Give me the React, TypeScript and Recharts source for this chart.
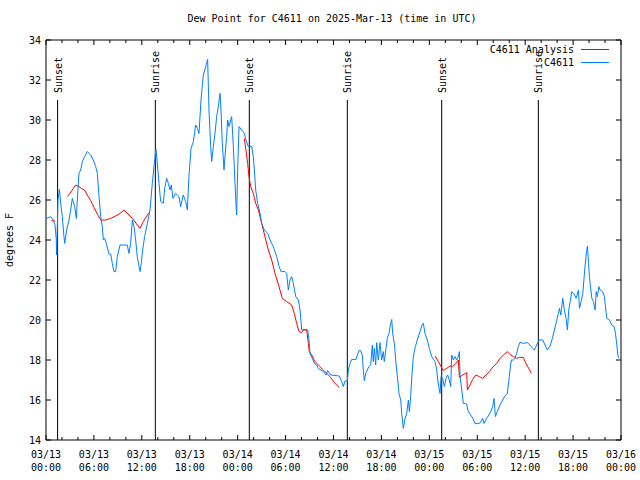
import { LineChart, Line, XAxis, YAxis, ReferenceLine, ReferenceArea, Legend } from 'recharts';

// time axis: hours since 2025-03-13 00:00 UTC
const obsHours = [
  0.0, 0.08, 0.58, 0.92, 1.13, 1.29, 1.33, 1.5, 1.67, 1.84, 2.04, 2.25, 2.34, 2.59, 2.88, 3.09, 3.3,
  3.59, 3.8, 3.92, 4.13, 4.34, 4.55, 4.84, 5.17, 5.6, 5.93, 6.22, 6.43, 6.64, 6.85, 7.05, 7.18, 7.35,
  7.55, 7.89, 8.1, 8.3, 8.51, 8.72, 8.93, 9.27, 10.18, 10.39, 10.6, 10.81, 11.02, 11.23, 11.43, 11.65,
  11.77, 11.93, 12.1, 12.35, 12.69, 13.02, 13.31, 13.52, 13.77, 13.94, 14.15, 14.36, 14.69, 14.86,
  15.11, 15.32, 15.53, 15.69, 15.9, 16.24, 16.65, 16.86, 17.19, 17.49, 17.7, 17.9, 18.16, 18.45,
  18.74, 18.95, 19.16, 19.41, 19.7, 20.0, 20.24, 20.41, 20.62, 20.75, 20.95, 21.16, 21.37, 21.58,
  21.79, 21.91, 22.08, 22.29, 22.41, 22.62, 22.75, 22.92, 23.13, 23.25, 23.46, 23.67, 23.79, 23.87,
  24.0, 24.17, 24.5, 24.83, 25.04, 25.33, 25.76, 25.96, 26.09, 26.26, 26.51, 26.8, 27.01, 27.34,
  27.76, 28.05, 28.46, 28.89, 29.18, 29.43, 29.93, 30.14, 30.34, 30.55, 30.77, 30.97, 31.27, 31.6,
  31.81, 32.02, 32.43, 32.77, 32.93, 33.06, 33.35, 33.6, 33.9, 34.1, 34.73, 35.06, 35.27, 35.65,
  36.73, 37.02, 37.23, 37.44, 37.73, 37.86, 38.07, 38.28, 38.82, 38.98, 39.19, 39.4, 39.6, 39.73,
  39.86, 40.03, 40.23, 40.48, 40.66, 40.86, 40.98, 41.11, 41.28, 41.41, 41.61, 41.82, 42.03, 42.24,
  42.36, 42.57, 42.74, 42.95, 43.16, 43.29, 43.41, 43.62, 43.83, 44.04, 44.2, 44.42, 44.54, 44.74,
  44.96, 45.17, 45.37, 45.5, 45.66, 45.83, 46.0, 46.25, 46.5, 46.83, 47.08, 47.25, 47.46, 47.75,
  48.0, 48.3, 48.71, 48.93, 49.05, 49.18, 49.34, 49.47, 49.67, 49.88, 50.09, 50.3, 50.5, 50.68,
  50.8, 51.01, 51.22, 51.43, 51.63, 51.76, 51.85, 52.06, 52.26, 52.68, 52.81, 53.09, 53.43, 53.71,
  54.13, 54.42, 54.68, 54.84, 55.09, 55.38, 55.68, 55.93, 56.1, 56.27, 56.51, 56.85, 57.18, 57.47,
  57.77, 57.94, 58.1, 58.27, 58.52, 58.73, 58.93, 59.14, 59.35, 59.77, 60.27, 60.6, 60.94, 61.14,
  61.44, 61.73, 62.2, 62.49, 62.78, 63.12, 63.41, 63.66, 63.96, 64.16, 64.29, 64.46, 64.71, 64.91,
  65.12, 65.29, 65.46, 65.63, 65.84, 66.13, 66.38, 66.67, 66.8, 67.01, 67.22, 67.39, 67.51, 67.68,
  67.8, 67.93, 68.05, 68.22, 68.35, 68.55, 68.76, 68.89, 69.05, 69.22, 69.39, 69.72, 69.93, 70.05,
  70.23, 70.56, 70.85, 71.14, 71.31, 71.48, 71.61, 71.73,
];
const obsDewF = [
  25.1, 25.08, 25.17, 25.0, 24.75, 24.0, 23.25, 26.0, 26.53, 25.85, 25.17, 24.17, 23.83, 24.5, 25.0, 25.5, 26.08,
  25.67, 25.08, 26.0, 27.33, 27.5, 27.92, 28.17, 28.42, 28.25, 28.0, 27.67, 27.33, 26.17, 25.17, 24.67, 24.0, 24.08,
  23.83, 23.3, 23.3, 22.83, 22.42, 22.42, 23.17, 23.75, 23.75, 23.33, 23.83, 25.0, 24.67, 24.0, 23.17, 22.67,
  22.42, 22.83, 23.5, 24.17, 24.83, 25.5, 26.83, 27.67, 28.53, 27.83, 26.83, 25.92, 25.83, 26.58,
  27.08, 26.83, 26.5, 26.75, 26.08, 26.33, 26.17, 25.67, 26.25, 25.92, 25.5, 27.17, 28.58, 28.92,
  29.75, 29.58, 29.33, 31.0, 32.25, 32.67, 33.03, 30.5, 28.67, 27.92, 28.67, 29.33, 30.17, 30.67,
  31.33, 30.5, 28.83, 27.5, 28.17, 29.17, 30.0, 29.67, 30.0, 30.17, 28.67, 26.83, 25.83, 25.25,
  27.5, 29.67, 29.5, 29.33, 29.0, 28.67, 28.67, 28.17, 27.5, 26.5, 25.83, 25.33, 24.83, 24.5,
  24.33, 24.0, 23.67, 23.17, 22.67, 22.42, 22.42, 22.33, 21.5, 22.0, 22.17, 21.83, 21.17, 21.0,
  20.5, 19.5, 19.53, 19.5, 19.0, 18.33, 18.08, 17.83, 17.75, 17.58, 17.42, 17.25, 17.47, 17.25,
  17.2, 16.92, 16.67, 16.95, 16.95, 17.5, 17.83, 18.03, 18.03, 18.25, 18.47, 18.47, 18.25, 17.5,
  16.97, 17.33, 17.5, 17.7, 17.75, 18.75, 17.92, 18.58, 17.75, 18.87, 18.0, 18.87, 18.0, 18.42,
  17.92, 18.58, 19.08, 19.33, 19.83, 20.03, 19.33, 18.83, 17.83, 17.0, 16.33, 16.0, 15.33, 14.58,
  15.08, 15.33, 16.0, 15.42, 16.17, 17.33, 18.17, 18.67, 19.0, 19.42, 19.75, 19.83, 19.33, 19.0,
  18.58, 18.17, 17.92, 17.5, 17.0, 16.67, 16.33, 17.17, 17.08, 16.67, 17.08, 17.25, 17.0, 16.67,
  18.25, 18.0, 18.17, 18.0, 18.17, 18.42, 17.17, 16.5, 15.83, 15.8, 15.5, 15.3, 15.1, 14.82,
  14.82, 14.87, 15.08, 14.83, 15.03, 15.2, 15.42, 15.67, 16.08, 15.17, 15.42, 15.75, 16.0, 16.2,
  16.33, 16.92, 17.5, 18.0, 18.0, 18.08, 18.33, 18.67, 18.88, 18.83, 18.87, 18.75, 18.58, 18.5,
  18.75, 19.0, 19.0, 18.75, 18.5, 18.7, 19.08, 19.5, 20.0, 20.33, 20.58, 20.25, 21.08, 20.5,
  20.08, 19.5, 20.5, 20.92, 21.42, 21.3, 21.08, 21.5, 20.58, 20.92, 21.33, 22.17, 22.75, 23.42,
  23.7, 22.83, 22.17, 21.5, 21.08, 20.92, 20.5, 21.42, 21.17, 21.67, 21.5, 21.42, 21.17, 20.67,
  20.08, 20.0, 19.75, 19.67, 19.33, 18.75, 18.25, 18.1,
];

// analysis series, null = gap
const anaHours = [
  0.67, 1.1, 2.0, 2.67, 3.0, 3.42, 3.71, 4.13, 4.42, 4.84, 5.17, 5.6, 6.01, 6.43, 6.85, 7.47, 8.1,
  8.72, 9.27, 9.77, 10.27, 10.81, 11.35, 11.77, 12.18, 12.61, 12.9, 18.0, 24.83, 25.04, 25.25, 25.42,
  25.63, 25.96, 26.26, 26.59, 27.01, 27.42, 27.84, 28.26, 28.68, 29.18, 29.59, 30.14, 30.77, 31.09,
  31.39, 31.68, 32.02, 32.26, 32.64, 32.85, 32.97, 33.27, 33.68, 34.1, 34.73, 35.56, 36.19, 36.73,
  42.0, 48.71, 49.13, 49.47, 49.75, 50.17, 50.59, 50.92, 51.3, 51.63, 51.76, 52.18, 52.68, 52.76,
  53.09, 53.43, 53.84, 54.26, 54.68, 55.09, 55.51, 56.01, 56.44, 56.85, 57.27, 57.77, 58.1, 58.52,
  58.93, 59.27, 59.77, 59.98, 60.27, 60.52, 60.77,
];
const anaDewF = [
  24.97, 24.95, null, 26.17, 26.33, 26.58, 26.75, 26.67, 26.58, 26.5, 26.25, 25.97, 25.63, 25.3, 25.0, 25.0, 25.08,
  25.2, 25.33, 25.5, 25.3, 25.08, 24.8, 24.58, 24.92, 25.2, 25.37, null, 29.08, 28.5, 27.83, 27.17,
  26.67, 26.33, 25.83, 25.5, 24.83, 24.17, 23.5, 23.0, 22.33, 21.67, 21.08, 20.92, 20.75, 20.33,
  19.83, 19.42, 19.37, 19.5, 19.5, 18.83, 18.42, 18.25, 17.92, 17.75, 17.5, 17.17, 16.83, 16.62,
  null, 18.2, 17.92, 17.67, 17.47, 17.58, 17.7, 17.67, 17.83, 18.0, 17.13, 17.25, 17.37, 16.5,
  16.75, 17.03, 17.25, 17.17, 17.08, 17.25, 17.42, 17.67, 17.83, 18.08, 18.25, 18.42, 18.28, 18.17,
  18.08, 18.13, 18.13, 17.92, 17.7, 17.53, 17.33,
];

const sunHours = [1.45, 13.69, 25.46, 37.73, 49.55, 61.65];
const sunLabels = ['Sunset', 'Sunrise', 'Sunset', 'Sunrise', 'Sunset', 'Sunrise'];

const majorHours = [0, 6, 12, 18, 24, 30, 36, 42, 48, 54, 60, 66, 72];
const minorHours = [2, 4, 8, 10, 14, 16, 20, 22, 26, 28, 32, 34, 38, 40, 44, 46, 50, 52, 56, 58, 62, 64, 68, 70];
const xTickDates = ['03/13', '03/13', '03/13', '03/13', '03/14', '03/14', '03/14', '03/14', '03/15', '03/15', '03/15', '03/15', '03/16'];
const xTickTimes = ['00:00', '06:00', '12:00', '18:00', '00:00', '06:00', '12:00', '18:00', '00:00', '06:00', '12:00', '18:00', '00:00'];
const yTicks = [14, 16, 18, 20, 22, 24, 26, 28, 30, 32, 34];
const legendOrder = ['C4611 Analysis', 'C4611'];

const obsData = obsHours.map((h, i) => ({ h, dew: obsDewF[i] }));
const anaData = anaHours.map((h, i) => ({ h, dew: anaDewF[i] }));
const allXTicks = [...majorHours, ...minorHours].sort((a, b) => a - b);

const FONT = '"DejaVu Sans Mono", monospace';
const W = 640;
const H = 480;
const margin = { top: 40, right: 19, left: 6, bottom: 10 };
const PLOT_TOP = margin.top;
const PLOT_BOTTOM = H - margin.bottom - 30;
const PLOT_LEFT = margin.left + 40;
const PLOT_RIGHT = W - margin.right;

const XTick = ({ x, payload }: any) => {
  const i = majorHours.indexOf(payload.value);
  const len = i >= 0 ? 5 : 3;
  return (
    <g>
      <line x1={x} x2={x} y1={PLOT_BOTTOM} y2={PLOT_BOTTOM - len} stroke="#000" />
      <line x1={x} x2={x} y1={PLOT_TOP} y2={PLOT_TOP + len} stroke="#000" />
      {i >= 0 && (
        <text x={x} y={458} textAnchor="middle" fontFamily={FONT} fontSize={10} fill="#000">
          <tspan x={x}>{xTickDates[i]}</tspan>
          <tspan x={x} dy={13}>{xTickTimes[i]}</tspan>
        </text>
      )}
    </g>
  );
};

const YTick = ({ y, payload }: any) => (
  <g>
    <line x1={PLOT_LEFT} x2={PLOT_LEFT + 5} y1={y} y2={y} stroke="#000" />
    <line x1={PLOT_RIGHT} x2={PLOT_RIGHT - 5} y1={y} y2={y} stroke="#000" />
    <text x={41} y={y + 4} textAnchor="end" fontFamily={FONT} fontSize={10} fill="#000">
      {payload.value}
    </text>
  </g>
);

const SunLabel = ({ viewBox, text }: any) => {
  const x = viewBox.x + 4;
  const y = viewBox.y - 7;
  return (
    <text x={x} y={y} transform={`rotate(-90 ${x} ${y})`} fontFamily={FONT} fontSize={10} fill="#000">
      {text}
    </text>
  );
};

const LegendBox = ({ payload }: any) => {
  const items = legendOrder
    .map((name) => (payload || []).find((p: any) => p.value === name))
    .filter(Boolean);
  return (
    <svg width={150} height={30}>
      {items.map((p: any, i: number) => (
        <g key={p.value}>
          <text x={104} y={13 + i * 13} textAnchor="end" fontFamily={FONT} fontSize={10} fill="#000">
            {p.value}
          </text>
          <line x1={111} x2={139} y1={9.5 + i * 13} y2={9.5 + i * 13} stroke={p.color} />
        </g>
      ))}
    </svg>
  );
};

export default function App() {
  return (
    <div style={{ position: 'absolute', left: 0, top: 0, width: W, height: H, background: '#fff' }}>
      <div
        style={{
          position: 'absolute',
          top: 14,
          left: 0,
          width: 664,
          textAlign: 'center',
          fontFamily: FONT,
          fontSize: 10,
          lineHeight: '10px',
          zIndex: 1,
        }}
      >
        Dew Point for C4611 on 2025-Mar-13 (time in UTC)
      </div>
      <LineChart width={W} height={H} margin={margin}>
        <XAxis
          dataKey="h"
          type="number"
          domain={[0, 72]}
          ticks={allXTicks}
          interval={0}
          height={30}
          axisLine={false}
          tickLine={false}
          tick={<XTick />}
        />
        <YAxis
          type="number"
          domain={[14, 34]}
          ticks={yTicks}
          interval={0}
          width={40}
          axisLine={false}
          tickLine={false}
          tick={<YTick />}
          label={() => (
            <text
              x={13}
              y={240}
              transform="rotate(-90 13 240)"
              textAnchor="middle"
              fontFamily={FONT}
              fontSize={10}
              fill="#000"
            >
              degrees F
            </text>
          )}
        />
        <ReferenceArea x1={0} x2={72} y1={14} y2={34} fill="none" stroke="#000" strokeWidth={1} />
        {sunHours.map((h, i) => (
          <ReferenceLine
            key={i}
            segment={[{ x: h, y: 14 }, { x: h, y: 31 }]}
            stroke="#000"
            strokeWidth={1}
            label={(p: any) => <SunLabel {...p} text={sunLabels[i]} />}
          />
        ))}
        <Legend
          layout="vertical"
          align="center"
          verticalAlign="middle"
          wrapperStyle={{ top: 40, left: 470, width: 150, height: 30 }}
          content={<LegendBox />}
        />
        <Line
          data={anaData}
          dataKey="dew"
          name="C4611 Analysis"
          stroke="#ff0000"
          strokeWidth={1}
          dot={false}
          activeDot={false}
          connectNulls={false}
          isAnimationActive={false}
        />
        <Line
          data={obsData}
          dataKey="dew"
          name="C4611"
          stroke="#0080ff"
          strokeWidth={1}
          dot={false}
          activeDot={false}
          isAnimationActive={false}
        />
      </LineChart>
    </div>
  );
}
